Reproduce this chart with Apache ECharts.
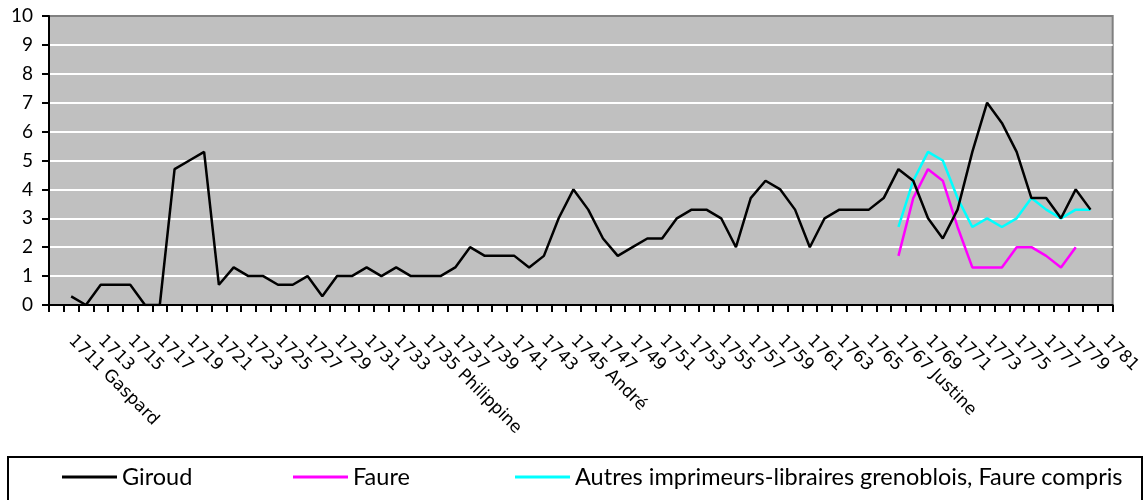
<!DOCTYPE html>
<html>
<head>
<meta charset="utf-8">
<script src="https://cdn.jsdelivr.net/npm/echarts@6/dist/echarts.min.js"></script>
<style>
html,body{margin:0;padding:0;background:#fff;}
#chart{width:1144px;height:500px;}
</style>
</head>
<body>
<div id="chart"></div>
<script>
// Categories: years 1710..1781
var years = [];
for (var y = 1710; y <= 1781; y++) years.push(String(y));

// Names added to some tick labels
var heirYears = ['1711', '1735', '1745', '1767'];
var heirNames = ['Gaspard', 'Philippine', 'André', 'Justine'];

// Giroud (1710..1781)
var giroud = [null,
  0.3, 0, 0.7, 0.7, 0.7, 0, 0, 4.7, 5.0, 5.3,
  0.7, 1.3, 1.0, 1.0, 0.7, 0.7, 1.0, 0.3, 1.0, 1.0,
  1.3, 1.0, 1.3, 1.0, 1.0, 1.0, 1.3, 2.0, 1.7, 1.7,
  1.7, 1.3, 1.7, 3.0, 4.0, 3.3, 2.3, 1.7, 2.0, 2.3,
  2.3, 3.0, 3.3, 3.3, 3.0, 2.0, 3.7, 4.3, 4.0, 3.3,
  2.0, 3.0, 3.3, 3.3, 3.3, 3.7, 4.7, 4.3, 3.0, 2.3,
  3.3, 5.3, 7.0, 6.3, 5.3, 3.7, 3.7, 3.0, 4.0, 3.3,
  null];

// Faure (1767..1779)
var faureYears = ['1767','1768','1769','1770','1771','1772','1773','1774','1775','1776','1777','1778','1779'];
var faureValues = [1.7, 3.7, 4.7, 4.3, 2.7, 1.3, 1.3, 1.3, 2.0, 2.0, 1.7, 1.3, 2.0];

// Autres imprimeurs-libraires (1767..1780)
var autresYears = ['1767','1768','1769','1770','1771','1772','1773','1774','1775','1776','1777','1778','1779','1780'];
var autresValues = [2.7, 4.3, 5.3, 5.0, 3.7, 2.7, 3.0, 2.7, 3.0, 3.7, 3.3, 3.0, 3.3, 3.3];

var yTicks = [0,1,2,3,4,5,6,7,8,9,10];

var seriesNames = ['Giroud', 'Faure', 'Autres imprimeurs-libraires grenoblois, Faure compris'];

function pairs(ys, vs) { return ys.map(function (yy, i) { return [yy, vs[i]]; }); }

var chart = echarts.init(document.getElementById('chart'), null, {renderer: 'canvas'});
var legendText = {fontFamily: 'Lato', fontSize: 23.5, color: '#000'};
var option = {
  animation: false,
  backgroundColor: '#fff',
  graphic: [{
    type: 'rect', z: -10,
    shape: {x: 8, y: 457, width: 1134, height: 80},
    style: {fill: '#fff', stroke: '#000', lineWidth: 2}
  }],
  legend: [
    {data: [seriesNames[0]], left: 62, top: 465, padding: 0, icon: 'rect', itemWidth: 55, itemHeight: 3, textStyle: legendText},
    {data: [seriesNames[1]], left: 293, top: 465, padding: 0, icon: 'rect', itemWidth: 55, itemHeight: 3, textStyle: legendText},
    {data: [seriesNames[2]], left: 515, top: 465, padding: 0, icon: 'rect', itemWidth: 55, itemHeight: 3, textStyle: legendText}
  ],
  grid: {
    left: 49, right: 29, top: 16, bottom: 195,
    show: true, backgroundColor: '#C0C0C0', borderColor: '#808080', borderWidth: 2
  },
  xAxis: {
    type: 'category',
    data: years,
    boundaryGap: true,
    axisLine: {lineStyle: {color: '#000', width: 2}},
    axisTick: {show: true, interval: 0, length: 7, lineStyle: {color: '#000', width: 2}},
    axisLabel: {
      interval: function (index) { return index % 2 === 1; },
      rotate: -45,
      margin: 33,
      fontFamily: 'DejaVu Sans',
      fontSize: 17,
      color: '#000',
      formatter: function (v) {
        var k = heirYears.indexOf(v);
        return k >= 0 ? v + ' ' + heirNames[k] : v;
      }
    },
    splitLine: {show: false}
  },
  yAxis: {
    type: 'value',
    min: yTicks[0], max: yTicks[yTicks.length - 1], interval: 1,
    axisLine: {show: true, lineStyle: {color: '#000', width: 2}},
    axisTick: {show: true, length: 7, lineStyle: {color: '#000', width: 2}},
    axisLabel: {fontFamily: 'Lato', fontSize: 19, color: '#000', margin: 16},
    splitLine: {show: true, showMaxLine: false, showMinLine: false, lineStyle: {color: '#fff', width: 2}}
  },
  series: [
    {name: seriesNames[0], type: 'line', data: giroud, showSymbol: false, symbol: 'none', color: '#000', lineStyle: {color: '#000', width: 2.5}, z: 5},
    {name: seriesNames[1], type: 'line', data: pairs(faureYears, faureValues), showSymbol: false, symbol: 'none', color: '#FF00FF', lineStyle: {color: '#FF00FF', width: 2.5}, z: 4},
    {name: seriesNames[2], type: 'line', data: pairs(autresYears, autresValues), showSymbol: false, symbol: 'none', color: '#00FFFF', lineStyle: {color: '#00FFFF', width: 2.5}, z: 3}
  ]
};
chart.setOption(option);
</script>
</body>
</html>
